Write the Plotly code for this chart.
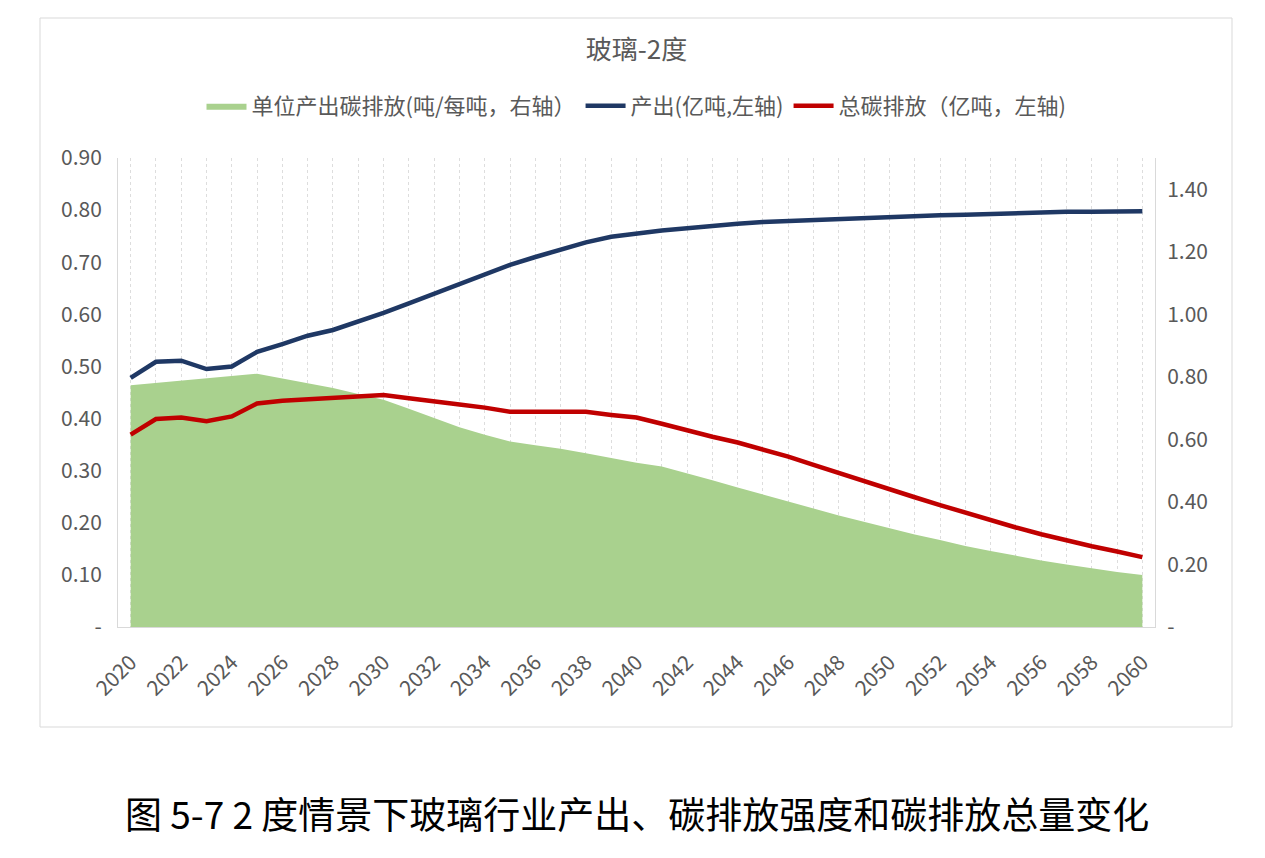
import plotly.graph_objects as go

years = list(range(2020, 2061))

# 产出 (亿吨, 左轴)
output = [0.478, 0.509, 0.511, 0.495, 0.500, 0.528, 0.543, 0.559, 0.570, 0.586,
          0.603, 0.621, 0.639, 0.658, 0.676, 0.695, 0.710, 0.724, 0.738, 0.749,
          0.756, 0.761, 0.765, 0.770, 0.774, 0.777, 0.779, 0.781, 0.783, 0.785,
          0.788, 0.789, 0.790, 0.791, 0.793, 0.795, 0.796, 0.797, 0.797, 0.798,
          0.798]

# 总碳排放 (亿吨, 左轴)
total_emis = [0.369, 0.399, 0.402, 0.395, 0.404, 0.429, 0.434, 0.437, 0.440, 0.443,
              0.445, 0.439, 0.432, 0.427, 0.421, 0.413, 0.413, 0.414, 0.413, 0.407,
              0.402, 0.390, 0.377, 0.365, 0.354, 0.341, 0.327, 0.311, 0.295, 0.279,
              0.264, 0.249, 0.234, 0.219, 0.205, 0.191, 0.178, 0.166, 0.155, 0.145,
              0.134]

# 单位产出碳排放 (吨/每吨, 右轴)
intensity = [0.773, 0.780, 0.788, 0.795, 0.803, 0.810, 0.795, 0.780, 0.764, 0.745,
             0.727, 0.698, 0.669, 0.639, 0.615, 0.593, 0.581, 0.570, 0.556, 0.540,
             0.525, 0.513, 0.492, 0.469, 0.446, 0.423, 0.402, 0.379, 0.357, 0.336,
             0.315, 0.296, 0.278, 0.259, 0.243, 0.227, 0.213, 0.200, 0.187, 0.176,
             0.166]

left_ticks = [0, 0.1, 0.2, 0.3, 0.4, 0.5, 0.6, 0.7, 0.8, 0.9]
left_text = ["-", "0.10", "0.20", "0.30", "0.40", "0.50", "0.60", "0.70", "0.80", "0.90"]
right_ticks = [0, 0.2, 0.4, 0.6, 0.8, 1.0, 1.2, 1.4]
right_text = ["-", "0.20", "0.40", "0.60", "0.80", "1.00", "1.20", "1.40"]
x_text = [str(y) if (y - 2020) % 2 == 0 else "" for y in years]

title_text = "玻璃-2度"
caption = "图 5-7 2 度情景下玻璃行业产出、碳排放强度和碳排放总量变化"
names = ["单位产出碳排放(吨/每吨，右轴）", "产出(亿吨,左轴)", "总碳排放（亿吨，左轴)"]

FONT = "Noto Sans CJK SC, Open Sans, sans-serif"
GREY = "#595959"
TICK = 21

fig = go.Figure()
fig.add_trace(go.Scatter(x=years, y=intensity, name=names[0], yaxis="y",
                         mode="lines", line=dict(width=0, color="#A9D18E"),
                         fill="tozeroy", fillcolor="#A9D18E"))
fig.add_trace(go.Scatter(x=years, y=output, name=names[1], yaxis="y2",
                         mode="lines", line=dict(width=4.5, color="#1F3864")))
fig.add_trace(go.Scatter(x=years, y=total_emis, name=names[2], yaxis="y2",
                         mode="lines", line=dict(width=4.5, color="#C00000")))

L, R, T, B = 118, 1155, 158, 627
W, H = 1265, 858
pw, ph = R - L, B - T


def px(x):
    return (x - L) / pw


def py(y):
    return (B - y) / ph


fig.update_layout(
    width=W, height=H,
    margin=dict(l=L, r=W - R, t=T, b=H - B, pad=0),
    paper_bgcolor="white", plot_bgcolor="white",
    font=dict(family=FONT, color=GREY, size=TICK),
    showlegend=True,
    title=dict(text=title_text, x=0.5, xref="paper", xanchor="center",
               y=1 - 50 / H, yref="container", yanchor="middle",
               font=dict(size=26, color=GREY, family=FONT)),
    legend=dict(orientation="h", x=0.5, xanchor="center", y=py(106), yanchor="middle",
                font=dict(size=22, color=GREY), itemwidth=40, traceorder="normal"),
    xaxis=dict(range=[2019.5, 2060.5], tickmode="array", tickvals=years, ticktext=x_text,
               tickangle=-45, showgrid=True, gridcolor="#DDDDDD", griddash="dot",
               gridwidth=1, showline=True, linecolor="#D9D9D9", linewidth=1,
               ticks="", zeroline=False, ticklabelstandoff=14,
               tickfont=dict(size=TICK, color=GREY)),
    yaxis=dict(range=[0, 1.5], side="right", tickmode="array", tickvals=right_ticks,
               ticktext=right_text, showgrid=False, zeroline=False, showline=True,
               linecolor="#D9D9D9", linewidth=1, ticks="", ticklabelstandoff=7,
               tickfont=dict(size=TICK, color=GREY)),
    yaxis2=dict(range=[0, 0.9], side="left", overlaying="y", tickmode="array",
                tickvals=left_ticks, ticktext=left_text, showgrid=False, zeroline=False,
                showline=True, linecolor="#D9D9D9", linewidth=1, ticks="",
                ticklabelstandoff=11, tickfont=dict(size=TICK, color=GREY)),
    shapes=[dict(type="rect", xref="paper", yref="paper",
                 x0=px(40), x1=px(1232), y0=py(727), y1=py(18),
                 line=dict(color="#D9D9D9", width=1), fillcolor="rgba(0,0,0,0)",
                 layer="below")],
    annotations=[dict(text=caption, xref="paper", yref="paper", x=px(637), y=py(813),
                      xanchor="center", yanchor="middle", showarrow=False,
                      font=dict(size=37, color="black", family=FONT))],
)

fig.write_html("out.html")
